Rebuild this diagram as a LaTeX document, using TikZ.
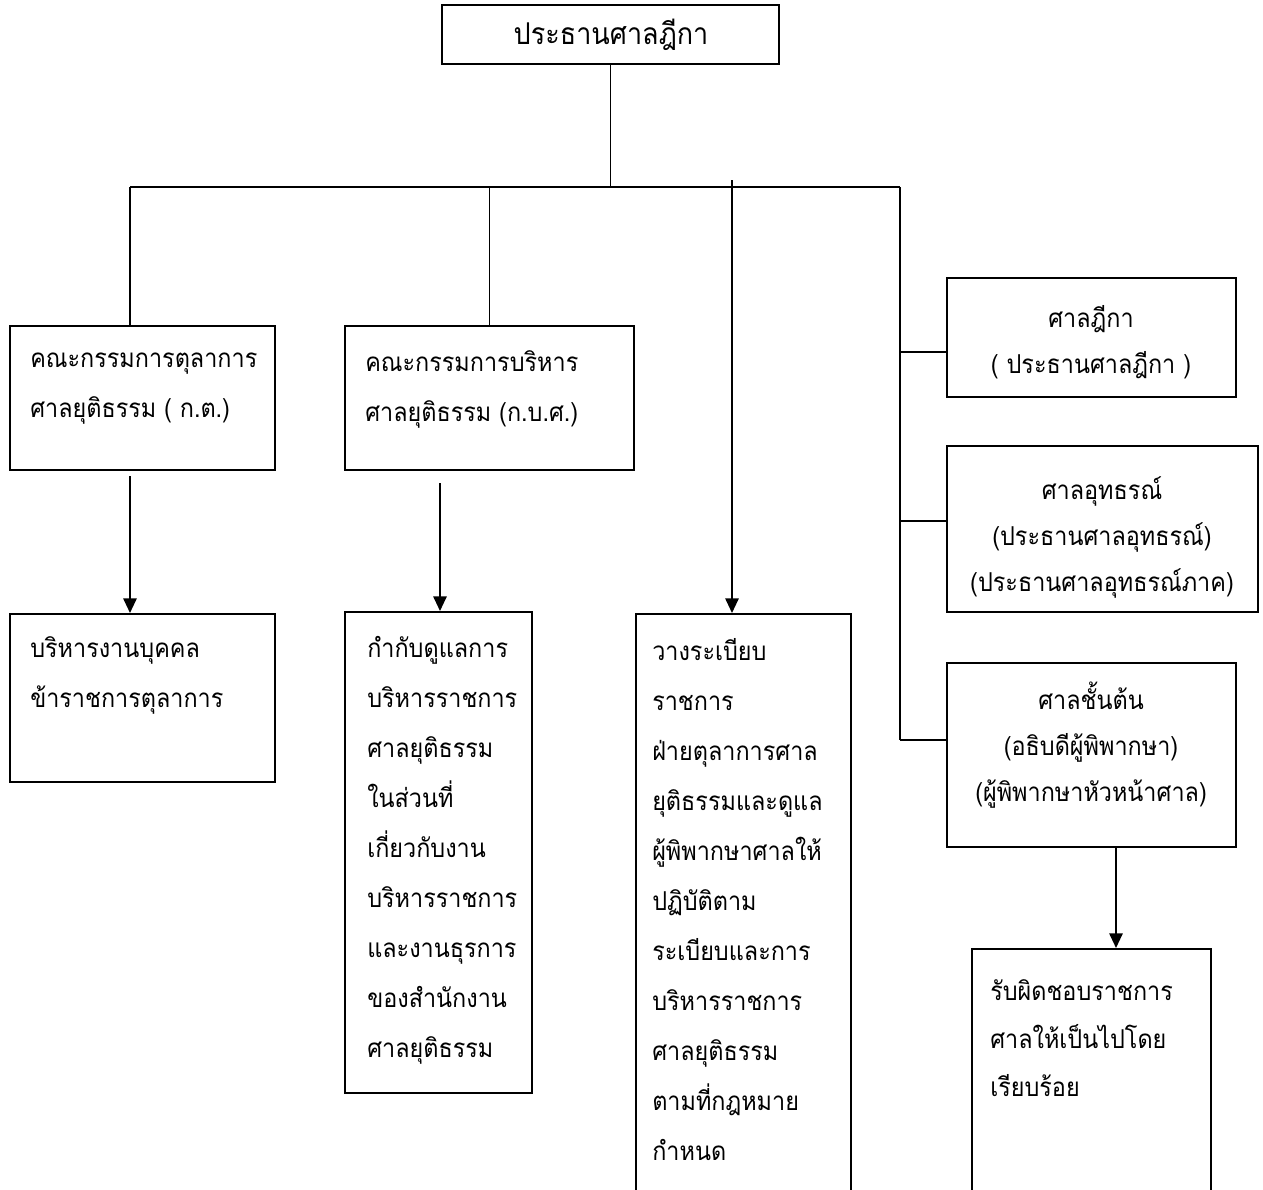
\documentclass[tikz,border=0pt]{standalone}
\usepackage{fontspec}
\newfontfamily\thaifont[Script=Thai,FakeStretch=0.9]{Loma}
\usetikzlibrary{arrows.meta,fit,positioning}
\tikzset{
  boxa/.style={draw, line width=1.5pt, inner sep=0pt},
  conn/.style={line width=1.4pt},
  arr/.style={line width=1.4pt, -{Triangle[length=11pt,width=10pt]}},
  txt/.style={font=\thaifont\fontsize{19.5}{37.5}\selectfont, inner sep=0pt, align=left},
  txtr/.style={font=\thaifont\fontsize{19.5}{34.5}\selectfont, inner sep=0pt, align=center},
  txtb/.style={font=\thaifont\fontsize{19.5}{36}\selectfont, inner sep=0pt, align=left},
}
\begin{document}
\begin{tikzpicture}[x=0.75pt,y=-0.75pt]
\useasboundingbox (0,0) rectangle (1263,1189);
% boxes
\node[boxa, fit={(442,5) (779,64)}] (top) {};
\node[boxa, fit={(10,326) (275,470)}] (b1) {};
\node[boxa, fit={(345,326) (634,470)}] (b2) {};
\node[boxa, fit={(947,278) (1236,397)}] (c1) {};
\node[boxa, fit={(947,446) (1258,612)}] (c2) {};
\node[boxa, fit={(947,663) (1236,847)}] (c3) {};
\node[boxa, fit={(10,614) (275,782)}] (b4) {};
\node[boxa, fit={(345,612) (532,1093)}] (b5) {};
\node[boxa, fit={(636,614) (851,1210)}] (b6) {};
\node[boxa, fit={(972,949) (1211,1210)}] (b7) {};
% texts
\node[txt, font=\thaifont\fontsize{22.5}{30}\selectfont] (ttop) at (611,35) {ประธานศาลฎีกา};
\node[txt, anchor=west] (t1) at (30,389) {คณะกรรมการตุลาการ\\ศาลยุติธรรม ( ก.ต.)};
\node[txt, anchor=west] (t2) at (365,389) {คณะกรรมการบริหาร\\ศาลยุติธรรม (ก.บ.ศ.)};
\node[txtr] (tc1) at (1091,342) {ศาลฎีกา\\( ประธานศาลฎีกา )};
\node[txtr] (tc2) at (1102,537) {ศาลอุทธรณ์\\(ประธานศาลอุทธรณ์)\\(ประธานศาลอุทธรณ์ภาค)};
\node[txtr] (tc3) at (1091,745) {ศาลชั้นต้น\\(อธิบดีผู้พิพากษา)\\(ผู้พิพากษาหัวหน้าศาล)};
\node[txt, anchor=west] (t4) at (30,675) {บริหารงานบุคคล\\ข้าราชการตุลาการ};
\node[txt, anchor=west] (t5) at (367,850) {กำกับดูแลการ\\บริหารราชการ\\ศาลยุติธรรม\\ในส่วนที่\\เกี่ยวกับงาน\\บริหารราชการ\\และงานธุรการ\\ของสำนักงาน\\ศาลยุติธรรม};
\node[txt, anchor=west] (t6) at (652,900) {วางระเบียบ\\ราชการ\\ฝ่ายตุลาการศาล\\ยุติธรรมและดูแล\\ผู้พิพากษาศาลให้\\ปฏิบัติตาม\\ระเบียบและการ\\บริหารราชการ\\ศาลยุติธรรม\\ตามที่กฎหมาย\\กำหนด};
\node[txtb, anchor=west] (t7) at (990,1038) {รับผิดชอบราชการ\\ศาลให้เป็นไปโดย\\เรียบร้อย};
% connectors
\coordinate (busL) at (130,187);
\coordinate (busR) at (900,187);
\coordinate (mid) at (732,180);
\coordinate (r1) at (900,352);
\coordinate (r2) at (900,521);
\coordinate (r3) at (900,740);
\coordinate (a1) at (130,476);
\coordinate (a2) at (440,483);
\coordinate (a3) at (1116,847);
\draw[conn] (top.south) -- (top.south|-busL);
\draw[conn] (busL) -- (busR);
\draw[conn] (busL) -- (busL|-b1.north);
\draw[conn] (b2.north|-busL) -- (b2.north);
\draw[conn] (busR) -- (r3);
\draw[conn] (r1) -- (r1-|c1.west);
\draw[conn] (r2) -- (r2-|c2.west);
\draw[conn] (r3) -- (r3-|c3.west);
\draw[arr] (mid) -- (mid|-b6.north);
\draw[arr] (a1) -- (a1|-b4.north);
\draw[arr] (a2) -- (a2|-b5.north);
\draw[arr] (a3) -- (a3|-b7.north);
\end{tikzpicture}
\end{document}
